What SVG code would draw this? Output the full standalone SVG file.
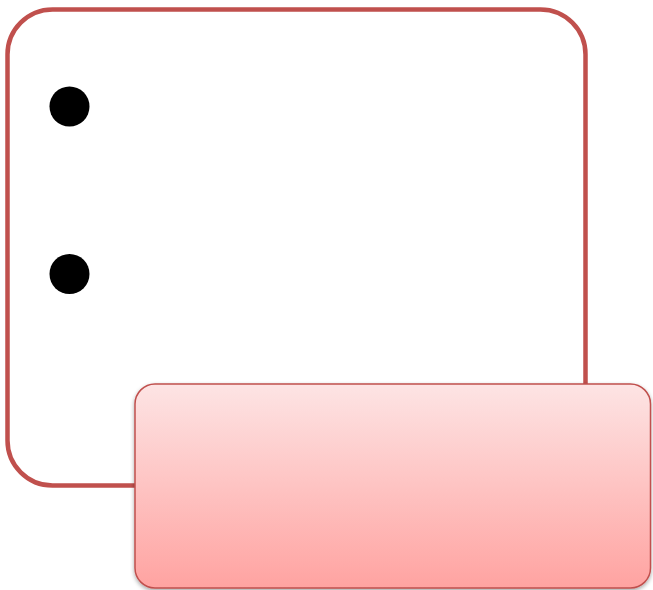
<svg xmlns="http://www.w3.org/2000/svg" width="653" height="590" viewBox="0 0 653 590">
<defs>
<linearGradient id="pg" x1="0" y1="0" x2="0" y2="1">
<stop offset="0" stop-color="#fde4e4"/>
<stop offset="1" stop-color="#ffa3a1"/>
</linearGradient>
<filter id="sh" x="-5%" y="-5%" width="110%" height="115%">
<feGaussianBlur in="SourceAlpha" stdDeviation="2"/>
<feOffset dx="0" dy="2"/>
<feComponentTransfer><feFuncA type="linear" slope="0.35"/></feComponentTransfer>
<feMerge><feMergeNode/><feMergeNode in="SourceGraphic"/></feMerge>
</filter>
<style>
.frame{fill:#fff;stroke:#c0504d;stroke-width:4.5}
.bul{fill:#000}
.note{fill:url(#pg);stroke:#c0504d;stroke-width:1.5}
</style>
</defs>
<rect width="653" height="590" fill="#fff"/>
<g id="list">
<rect class="frame" x="7.5" y="9.5" width="578" height="476" rx="45" ry="45"/>
<circle class="bul" cx="69.5" cy="106.5" r="20"/>
<circle class="bul" cx="69.5" cy="274" r="20"/>
</g>
<g id="connectors"></g>
<g id="note" filter="url(#sh)">
<rect class="note" x="135" y="384" width="515.5" height="204" rx="20" ry="20"/>
</g>
</svg>
